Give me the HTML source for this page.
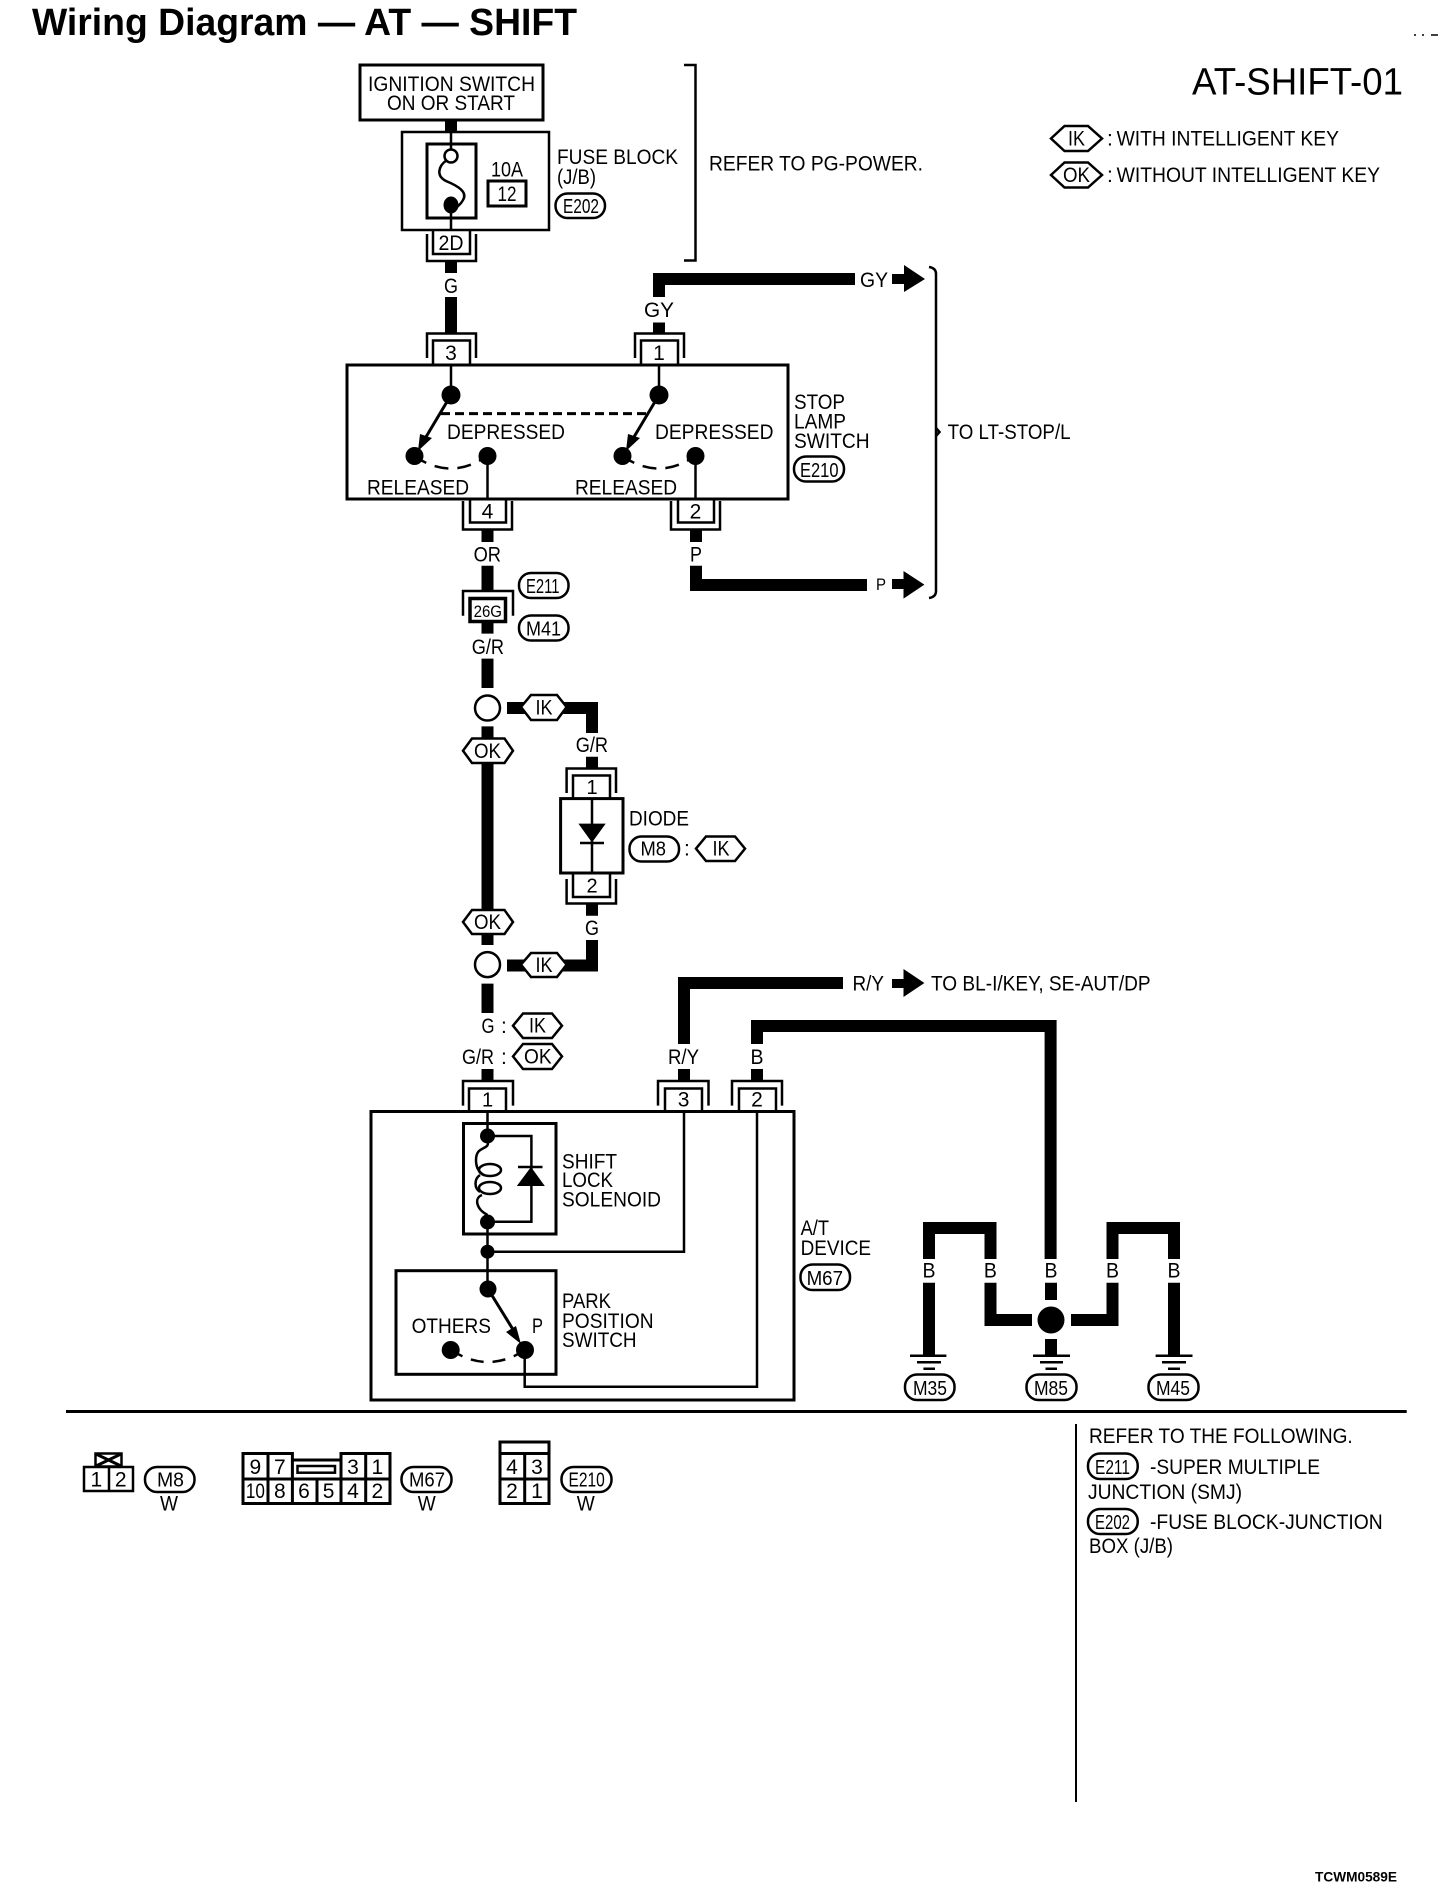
<!DOCTYPE html>
<html><head><meta charset="utf-8"><title>Wiring Diagram — AT — SHIFT</title>
<style>
html,body{margin:0;padding:0;background:#fff}
svg{display:block}
text{font-family:"Liberation Sans",sans-serif;font-size:21px;fill:#000}
.s{font-size:20px}
.t{font-size:17px}
.w{fill:none;stroke:#000;stroke-width:12;stroke-linejoin:miter}
.l{fill:none;stroke:#000;stroke-width:2.5}
.b{fill:none;stroke:#000;stroke-width:3}
.h{fill:#fff;stroke:#000;stroke-width:2.5}
.f{fill:#000;stroke:none}
</style></head><body>
<svg xmlns="http://www.w3.org/2000/svg" width="1456" height="1900" viewBox="0 0 1456 1900">
<rect width="1456" height="1900" fill="#fff"/>
<text x="32" y="35" style="font-size:38px;font-weight:bold" textLength="545" lengthAdjust="spacingAndGlyphs">Wiring Diagram — AT — SHIFT</text>
<text x="1192" y="94.6" style="font-size:38px" textLength="211" lengthAdjust="spacingAndGlyphs">AT-SHIFT-01</text>
<path d="M1414 35h2M1422 35h2M1431 35h7" class="l" style="stroke-width:1.5"/>

<!-- legend -->
<polygon class="h" points="1051,138.5 1064.5,126 1088,126 1102,138.5 1088,151 1064.5,151"/>
<text x="1068" y="145.7" textLength="17" lengthAdjust="spacingAndGlyphs">IK</text>
<text x="1107" y="145.7">:</text>
<text x="1116.6" y="145.7" textLength="222.4" lengthAdjust="spacingAndGlyphs">WITH INTELLIGENT KEY</text>
<polygon class="h" points="1051,175 1064.5,162.5 1088,162.5 1102,175 1088,187.5 1064.5,187.5"/>
<text x="1063" y="182" textLength="27" lengthAdjust="spacingAndGlyphs">OK</text>
<text x="1107" y="182">:</text>
<text x="1116.6" y="182" textLength="263.4" lengthAdjust="spacingAndGlyphs">WITHOUT INTELLIGENT KEY</text>

<!-- top block -->
<rect x="360" y="65" width="183" height="55" class="b"/>
<text x="368" y="91" textLength="167" lengthAdjust="spacingAndGlyphs">IGNITION SWITCH</text>
<text x="387" y="110" textLength="128" lengthAdjust="spacingAndGlyphs">ON OR START</text>
<path class="w" d="M451 120V132"/>
<rect x="402" y="132" width="147" height="98" class="l"/>
<rect x="427" y="144" width="49" height="74" class="b"/>
<path class="l" d="M451 132V149M451 205V230"/>
<circle cx="451" cy="156" r="6.5" class="h"/>
<ellipse cx="451" cy="205" rx="7.5" ry="8.5" class="f"/>
<path class="l" d="M447 160C438 166 436 176 446 181C458 186 468 192 463 200C461 204 458 206 456 208"/>
<text x="491" y="176.5" textLength="32" lengthAdjust="spacingAndGlyphs">10A</text>
<rect x="488" y="181" width="38" height="25" class="b"/>
<text x="507" y="201" text-anchor="middle" textLength="19" lengthAdjust="spacingAndGlyphs">12</text>
<text x="557" y="164" textLength="121" lengthAdjust="spacingAndGlyphs">FUSE BLOCK</text>
<text x="557" y="184" textLength="39" lengthAdjust="spacingAndGlyphs">(J/B)</text>
<rect x="555.5" y="193.5" width="49.5" height="24.5" rx="12" class="h"/>
<text class="s" x="563" y="213" textLength="36" lengthAdjust="spacingAndGlyphs">E202</text>
<text x="709" y="170.4" textLength="214" lengthAdjust="spacingAndGlyphs">REFER TO PG-POWER.</text>
<path class="l" d="M684 65H695.5V260.5H684"/>

<!-- 2D -->
<path class="l" d="M427 234V261H476V234M433 230V254H470V230"/>
<text x="451" y="250" text-anchor="middle" textLength="25" lengthAdjust="spacingAndGlyphs">2D</text>
<path class="w" d="M451 261V273"/>
<text x="451" y="293" text-anchor="middle" textLength="14" lengthAdjust="spacingAndGlyphs">G</text>
<path class="w" d="M451 297V333"/>

<!-- stop lamp switch -->
<path class="l" d="M427 358V333.5H476V358M433 365V340.5H470V365"/>
<text x="451" y="360" text-anchor="middle">3</text>
<path class="w" d="M659 297V279H855"/>
<path class="w" d="M659 322.5V333"/>
<text x="659" y="317" text-anchor="middle" textLength="30" lengthAdjust="spacingAndGlyphs">GY</text>
<path class="l" d="M635 358V333.5H684V358M641 365V340.5H678V365"/>
<text x="659" y="360" text-anchor="middle">1</text>
<text x="860" y="287" textLength="28" lengthAdjust="spacingAndGlyphs">GY</text>
<polygon class="f" points="892,274 904,274 904,265 925,279 904,292 904,284 892,284"/>
<path class="l" d="M929 267Q936 268 936 274V591Q936 597 929 598M936 428L939.5 432L936 436"/>
<text x="947.6" y="439" textLength="123" lengthAdjust="spacingAndGlyphs">TO LT-STOP/L</text>

<rect x="347" y="365" width="441" height="134" class="b"/>
<path class="l" d="M451 365V395M659 365V395M487.5 456V499M695.5 456V499"/>
<ellipse cx="451" cy="395" rx="9.5" ry="9.5" class="f"/><ellipse cx="659" cy="395" rx="9.5" ry="9.5" class="f"/>
<path class="b" d="M451 395L420 447M659 395L628 447"/>
<polygon class="f" points="418,451 420,434 432,438"/><polygon class="f" points="626,451 628,434 640,438"/>
<circle cx="414.5" cy="456" r="9" class="f"/><circle cx="487.5" cy="456" r="9" class="f"/>
<circle cx="622.5" cy="456" r="9" class="f"/><circle cx="695.5" cy="456" r="9" class="f"/>
<path class="l" d="M414 456Q451 481 487 456M622 456Q659 481 695 456" stroke-dasharray="14 9"/>
<path class="b" d="M441 413.6H648" stroke-dasharray="9 5"/>
<text x="447" y="439" textLength="118" lengthAdjust="spacingAndGlyphs">DEPRESSED</text>
<text x="655" y="439" textLength="118.5" lengthAdjust="spacingAndGlyphs">DEPRESSED</text>
<text x="367" y="494.6" textLength="102" lengthAdjust="spacingAndGlyphs">RELEASED</text>
<text x="575" y="494.6" textLength="102" lengthAdjust="spacingAndGlyphs">RELEASED</text>
<text x="794" y="409" textLength="51" lengthAdjust="spacingAndGlyphs">STOP</text>
<text x="794" y="428.6" textLength="52" lengthAdjust="spacingAndGlyphs">LAMP</text>
<text x="794" y="448" textLength="75.6" lengthAdjust="spacingAndGlyphs">SWITCH</text>
<rect x="794" y="456.5" width="50" height="25" rx="12" class="h"/>
<text class="s" x="800" y="477" textLength="38.5" lengthAdjust="spacingAndGlyphs">E210</text>

<!-- 4 / 2 -->
<path class="l" d="M463 501V529.5H512V501M470 499V522.5H506V499"/>
<text x="487.5" y="518.6" text-anchor="middle">4</text>
<path class="l" d="M671 501V529.5H720V501M678 499V522.5H714V499"/>
<text x="695.5" y="518.6" text-anchor="middle">2</text>
<path class="w" d="M487.5 530V542M696 530V542"/>
<text x="473.6" y="561.4" textLength="27.4" lengthAdjust="spacingAndGlyphs">OR</text>
<text x="696" y="561.4" text-anchor="middle" textLength="12" lengthAdjust="spacingAndGlyphs">P</text>
<path class="w" d="M696 565.7V585H867"/>
<text class="t" x="876" y="590" textLength="10" lengthAdjust="spacingAndGlyphs">P</text>
<polygon class="f" points="892,579 903.5,579 903.5,571 924.4,584.6 903.5,598.6 903.5,589 892,589"/>

<!-- 26G -->
<path class="w" d="M487.5 565.7V591M487.5 622V633.6"/>
<path class="l" d="M463 615.7V591H513V615.7"/>
<rect x="470" y="598.5" width="35.5" height="23" fill="#fff" stroke="#000" stroke-width="3.5"/>
<text class="t" x="473.6" y="617" textLength="28.4" lengthAdjust="spacingAndGlyphs">26G</text>
<rect x="519" y="573" width="49.5" height="25" rx="12" class="h"/>
<text class="s" x="526" y="593" textLength="33.5" lengthAdjust="spacingAndGlyphs">E211</text>
<rect x="519" y="615.5" width="49.5" height="25" rx="12" class="h"/>
<text class="s" x="526" y="635.4" textLength="35" lengthAdjust="spacingAndGlyphs">M41</text>
<text x="471.7" y="654" textLength="32.3" lengthAdjust="spacingAndGlyphs">G/R</text>
<path class="w" d="M487.5 658.6V688M487.5 726.4V738M487.5 763V910M487.5 934V945M487.5 983.6V1013"/>
<circle cx="487.5" cy="708" r="12.5" class="h"/>
<circle cx="487.5" cy="964.6" r="12.5" class="h"/>
<polygon class="h" points="463,750.7 472,738.5 504.5,738.5 513,750.7 504.5,763 472,763"/>
<text x="487.5" y="758" text-anchor="middle" textLength="27" lengthAdjust="spacingAndGlyphs">OK</text>
<polygon class="h" points="463,922 472,910 504.5,910 513,922 504.5,934 472,934"/>
<text x="487.5" y="929" text-anchor="middle" textLength="27" lengthAdjust="spacingAndGlyphs">OK</text>

<!-- IK branch and diode -->
<path class="w" d="M507 708H592V733"/>
<polygon class="h" points="521,707 531,695 557,695 566.6,707 557,720 531,720"/>
<text x="544" y="714.5" text-anchor="middle" textLength="17" lengthAdjust="spacingAndGlyphs">IK</text>
<text x="575.7" y="752" textLength="32.3" lengthAdjust="spacingAndGlyphs">G/R</text>
<path class="w" d="M592 756.8V768M592 904V915.7"/>
<path class="l" d="M566.6 793V768.5H616V793M573 798V775.5H610V798"/>
<text class="s" x="592" y="794" text-anchor="middle">1</text>
<rect x="560.6" y="798.6" width="62.4" height="74.4" class="b"/>
<path class="l" d="M592 798.6V873M580 843H604"/>
<polygon class="f" points="578.4,823.6 605.7,823.6 592,842.5"/>
<path class="l" d="M566.6 879V903.5H616V879M573 873V897H610V873"/>
<text class="s" x="592" y="892.5" text-anchor="middle">2</text>
<text x="629" y="825.4" textLength="60" lengthAdjust="spacingAndGlyphs">DIODE</text>
<rect x="629.5" y="836.5" width="49.5" height="25" rx="12" class="h"/>
<text class="s" x="640.5" y="855.7" textLength="25.5" lengthAdjust="spacingAndGlyphs">M8</text>
<text x="684" y="855.7">:</text>
<polygon class="h" points="696,848.6 706,836.5 735,836.5 745,848.6 735,861 706,861"/>
<text x="712.5" y="855.7" textLength="17" lengthAdjust="spacingAndGlyphs">IK</text>
<text x="592" y="935" text-anchor="middle" textLength="14" lengthAdjust="spacingAndGlyphs">G</text>
<path class="w" d="M592 940V965.5H507"/>
<polygon class="h" points="521,964.6 531,953 557,953 566.6,964.6 557,977 531,977"/>
<text x="544" y="972" text-anchor="middle" textLength="17" lengthAdjust="spacingAndGlyphs">IK</text>
<text x="481.5" y="1033" textLength="13" lengthAdjust="spacingAndGlyphs">G</text>
<text x="501" y="1033">:</text>
<polygon class="h" points="513,1025.7 523,1013.5 552,1013.5 562,1025.7 552,1038 523,1038"/>
<text x="537.5" y="1032.5" text-anchor="middle" textLength="17" lengthAdjust="spacingAndGlyphs">IK</text>
<text x="462" y="1064" textLength="32" lengthAdjust="spacingAndGlyphs">G/R</text>
<text x="501" y="1064">:</text>
<polygon class="h" points="513,1056.4 523,1044 552,1044 562,1056.4 552,1069 523,1069"/>
<text x="524" y="1063.5" textLength="27.6" lengthAdjust="spacingAndGlyphs">OK</text>

<!-- R/Y and B -->
<path class="w" d="M684 1044V983H843"/>
<text x="852.5" y="990.7" textLength="31.5" lengthAdjust="spacingAndGlyphs">R/Y</text>
<polygon class="f" points="892,979 903.5,979 903.5,969 924.4,983 903.5,997 903.5,988 892,988"/>
<text x="931" y="990.7" textLength="219.6" lengthAdjust="spacingAndGlyphs">TO BL-I/KEY, SE-AUT/DP</text>
<path class="w" d="M757 1044V1026H1050.6V1259"/>
<text x="668" y="1064" textLength="31" lengthAdjust="spacingAndGlyphs">R/Y</text>
<text x="757" y="1064" text-anchor="middle" textLength="13" lengthAdjust="spacingAndGlyphs">B</text>
<path class="w" d="M487.5 1069V1081M684 1069V1081M757 1069V1081"/>

<!-- A/T device -->
<path class="l" d="M463 1105.6V1081H513V1105.6M469 1111V1088.5H506V1111"/>
<text class="s" x="487.5" y="1106.6" text-anchor="middle">1</text>
<path class="l" d="M658 1105.6V1081H708.5V1105.6M665 1111V1088.5H702V1111"/>
<text x="683.6" y="1106.6" text-anchor="middle">3</text>
<path class="l" d="M732 1105.6V1081H782V1105.6M739 1111V1088.5H776V1111"/>
<text x="757" y="1106.6" text-anchor="middle">2</text>
<rect x="371" y="1111.5" width="423" height="288.5" class="b"/>
<rect x="463.5" y="1123.5" width="92.5" height="110.5" class="b"/>
<rect x="396" y="1270.7" width="160" height="103.6" class="b"/>
<path class="l" d="M487.5 1111V1136H531.4V1221.7H487.5M487.5 1222V1289M684 1111V1251.7H487.5M757 1111V1386.7H524.7V1350"/>
<circle cx="487.5" cy="1136" r="7.5" class="f"/><circle cx="487.5" cy="1222" r="7.5" class="f"/><circle cx="487.5" cy="1251.7" r="7" class="f"/>
<path class="l" d="M488 1143C488 1150 476 1146 476 1160C476 1166 478 1172 484 1175M480 1175C474 1179 474 1188 480 1192M482 1195C474 1198 476 1209 487.5 1215"/>
<ellipse cx="490" cy="1170" rx="11" ry="6" class="l"/>
<ellipse cx="490" cy="1188" rx="11" ry="6" class="l"/>
<polygon class="f" points="516.8,1186 544.8,1186 531,1167"/>
<path class="l" d="M518 1167H542.5"/>
<text x="562" y="1168.3" textLength="55" lengthAdjust="spacingAndGlyphs">SHIFT</text>
<text x="562" y="1187" textLength="51" lengthAdjust="spacingAndGlyphs">LOCK</text>
<text x="562" y="1206.7" textLength="99" lengthAdjust="spacingAndGlyphs">SOLENOID</text>
<text x="562" y="1308" textLength="49" lengthAdjust="spacingAndGlyphs">PARK</text>
<text x="562" y="1328" textLength="91.6" lengthAdjust="spacingAndGlyphs">POSITION</text>
<text x="562" y="1347" textLength="74.6" lengthAdjust="spacingAndGlyphs">SWITCH</text>
<text x="411.6" y="1333" textLength="79.4" lengthAdjust="spacingAndGlyphs">OTHERS</text>
<text x="532" y="1333" textLength="11" lengthAdjust="spacingAndGlyphs">P</text>
<ellipse cx="488" cy="1289" rx="8.5" ry="8.5" class="f"/>
<path class="b" d="M488 1289L517 1336"/>
<polygon class="f" points="521,1344 506,1332 516,1326"/>
<circle cx="525" cy="1350" r="9" class="f"/><circle cx="450.7" cy="1350" r="9" class="f"/>
<path class="l" d="M451 1350Q488 1374 525 1350" stroke-dasharray="13 9"/>
<text x="800.6" y="1235" textLength="28.4" lengthAdjust="spacingAndGlyphs">A/T</text>
<text x="800.6" y="1255" textLength="70.4" lengthAdjust="spacingAndGlyphs">DEVICE</text>
<rect x="800.5" y="1264.5" width="49.5" height="25.5" rx="12" class="h"/>
<text class="s" x="806.6" y="1285" textLength="36.4" lengthAdjust="spacingAndGlyphs">M67</text>

<!-- grounds -->
<path class="w" d="M929 1259V1228H990.5V1259"/>
<path class="w" d="M1112.5 1259V1228H1174V1259"/>
<path class="w" d="M929 1282.7V1355M1174 1282.7V1355M1051 1282.7V1300M1051 1339V1355"/>
<path class="w" d="M990.5 1282.7V1320H1032M1071 1320H1112.5V1282.7"/>
<text x="929" y="1277.7" text-anchor="middle" textLength="13" lengthAdjust="spacingAndGlyphs">B</text><text x="990.4" y="1277.7" text-anchor="middle" textLength="13" lengthAdjust="spacingAndGlyphs">B</text><text x="1051" y="1277.7" text-anchor="middle" textLength="13" lengthAdjust="spacingAndGlyphs">B</text><text x="1112.5" y="1277.7" text-anchor="middle" textLength="13" lengthAdjust="spacingAndGlyphs">B</text><text x="1174" y="1277.7" text-anchor="middle" textLength="13" lengthAdjust="spacingAndGlyphs">B</text>
<circle cx="1051" cy="1320" r="13.5" class="f"/>
<path class="l" d="M910 1355.7H946.4M917 1362.3H941M923.4 1368.7H935M1033 1355.7H1070M1040 1362.3H1063M1045.5 1368.7H1057M1155.6 1355.7H1192.5M1162 1362.3H1186M1168 1368.7H1180"/>
<rect x="905" y="1374.5" width="49.5" height="25.5" rx="12" class="h"/>
<text class="s" x="913" y="1395" textLength="34" lengthAdjust="spacingAndGlyphs">M35</text>
<rect x="1026.5" y="1374.5" width="50" height="25.5" rx="12" class="h"/>
<text class="s" x="1034" y="1395" textLength="34" lengthAdjust="spacingAndGlyphs">M85</text>
<rect x="1148.5" y="1374.5" width="50" height="25.5" rx="12" class="h"/>
<text class="s" x="1156" y="1395" textLength="34" lengthAdjust="spacingAndGlyphs">M45</text>

<!-- rules -->
<rect x="66" y="1410" width="1340.7" height="3" class="f"/>
<rect x="1075" y="1424" width="2" height="378" class="f"/>

<!-- connector faces -->
<rect x="95.5" y="1453.5" width="26" height="13" class="l"/>
<path class="b" d="M96 1454L121 1466M121 1454L96 1466"/>
<rect x="84" y="1467" width="49" height="24" class="l"/><path class="l" d="M109 1467V1491"/>
<text x="96.3" y="1486.7" text-anchor="middle">1</text><text x="120.7" y="1486.7" text-anchor="middle">2</text>
<rect x="145" y="1467" width="49.5" height="25" rx="12" class="h"/>
<text class="s" x="157" y="1486.7" textLength="27" lengthAdjust="spacingAndGlyphs">M8</text>
<text x="169" y="1510.7" text-anchor="middle" textLength="18" lengthAdjust="spacingAndGlyphs">W</text>

<path class="b" d="M243 1453.5H292.4V1460H341V1453.5H390V1503.5H243ZM243 1479H390M268 1453.5V1503.5M292.4 1460V1503.5M317 1479V1503.5M341 1460V1503.5M365.7 1453.5V1503.5"/>
<rect x="297.5" y="1466" width="37.5" height="6.7" class="l"/>
<text x="255.4" y="1474" text-anchor="middle">9</text><text x="279.8" y="1474" text-anchor="middle">7</text><text x="353" y="1474" text-anchor="middle">3</text><text x="377.4" y="1474" text-anchor="middle">1</text>
<text x="255.4" y="1498" text-anchor="middle" textLength="19" lengthAdjust="spacingAndGlyphs">10</text><text x="279.8" y="1498" text-anchor="middle">8</text><text x="304" y="1498" text-anchor="middle">6</text><text x="328.6" y="1498" text-anchor="middle">5</text><text x="353" y="1498" text-anchor="middle">4</text><text x="377.4" y="1498" text-anchor="middle">2</text>
<rect x="401.5" y="1467" width="50" height="25" rx="12" class="h"/>
<text class="s" x="409" y="1486.7" textLength="36" lengthAdjust="spacingAndGlyphs">M67</text>
<text x="426.7" y="1510.7" text-anchor="middle" textLength="18" lengthAdjust="spacingAndGlyphs">W</text>

<path class="b" d="M500 1442H549V1503.5H500ZM500 1453.5H549M500 1479H549M524.7 1453.5V1503.5"/>
<text x="512" y="1474" text-anchor="middle">4</text><text x="537" y="1474" text-anchor="middle">3</text><text x="512" y="1498" text-anchor="middle">2</text><text x="537" y="1498" text-anchor="middle">1</text>
<rect x="561.5" y="1467" width="50" height="25" rx="12" class="h"/>
<text class="s" x="568.5" y="1486.7" textLength="36.2" lengthAdjust="spacingAndGlyphs">E210</text>
<text x="585.8" y="1510.7" text-anchor="middle" textLength="18" lengthAdjust="spacingAndGlyphs">W</text>

<!-- notes -->
<text x="1089" y="1443" textLength="263.7" lengthAdjust="spacingAndGlyphs">REFER TO THE FOLLOWING.</text>
<rect x="1088" y="1453.5" width="49.7" height="25.5" rx="12" class="h"/>
<text class="s" x="1095" y="1474" textLength="35" lengthAdjust="spacingAndGlyphs">E211</text>
<text x="1150" y="1474" textLength="170" lengthAdjust="spacingAndGlyphs">-SUPER MULTIPLE</text>
<text x="1088" y="1499" textLength="154" lengthAdjust="spacingAndGlyphs">JUNCTION (SMJ)</text>
<rect x="1088" y="1509" width="49.7" height="25" rx="12" class="h"/>
<text class="s" x="1095" y="1529" textLength="35" lengthAdjust="spacingAndGlyphs">E202</text>
<text x="1150" y="1529" textLength="232.7" lengthAdjust="spacingAndGlyphs">-FUSE BLOCK-JUNCTION</text>
<text x="1089" y="1553" textLength="84" lengthAdjust="spacingAndGlyphs">BOX (J/B)</text>
<text x="1315" y="1881.6" style="font-size:14px;font-weight:bold" textLength="82" lengthAdjust="spacingAndGlyphs">TCWM0589E</text>
</svg>
</body></html>
